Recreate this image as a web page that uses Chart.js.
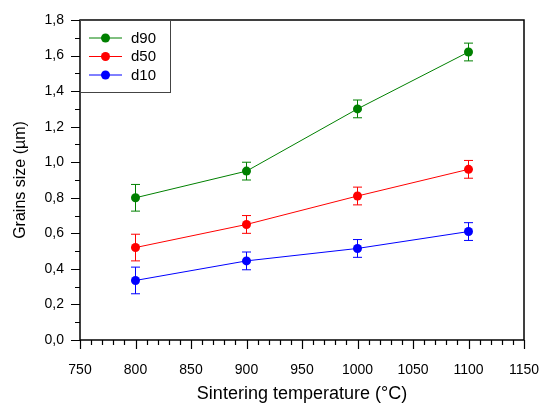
<!DOCTYPE html>
<html lang="en">
<head>
    <meta charset="UTF-8">
    <title>Grains size vs sintering temperature</title>
    <style>
        body { margin: 0; background: #ffffff; }
        #chart { display: block; }
    </style>
    <script src="https://cdnjs.cloudflare.com/ajax/libs/Chart.js/4.4.0/chart.umd.min.js"></script>
</head>
<body>
    <canvas id="chart" width="542" height="405"></canvas>
    <script>
        // data
        const temps = [800, 900, 1000, 1100];
        const d90 = [0.80, 0.95, 1.30, 1.62];
        const d90Err = [0.075, 0.05, 0.05, 0.05];
        const d50 = [0.52, 0.65, 0.81, 0.96];
        const d50Err = [0.075, 0.05, 0.05, 0.05];
        const d10 = [0.335, 0.445, 0.515, 0.61];
        const d10Err = [0.075, 0.05, 0.05, 0.05];

        const FONT = "'Liberation Sans', Arial, sans-serif";

        function makeSet(label, values, errs, color) {
            return {
                label: label,
                data: temps.map((t, i) => ({ x: t, y: values[i] })),
                errors: errs,
                borderColor: color,
                backgroundColor: color,
                borderWidth: 1,
                pointRadius: 4.5,
                pointHoverRadius: 4.5,
                pointBorderWidth: 0,
                tension: 0
            };
        }

        // error bars, frame, ticks and the boxed legend
        const decorations = {
            id: 'decorations',
            beforeDatasetsDraw(chart) {
                const ctx = chart.ctx;
                const xs = chart.scales.x, ys = chart.scales.y;
                ctx.save();
                chart.data.datasets.forEach(ds => {
                    ctx.strokeStyle = ds.borderColor;
                    ctx.lineWidth = 1;
                    ds.data.forEach((p, i) => {
                        const px = xs.getPixelForValue(p.x);
                        const top = ys.getPixelForValue(p.y + ds.errors[i]);
                        const bot = ys.getPixelForValue(p.y - ds.errors[i]);
                        ctx.beginPath();
                        ctx.moveTo(px, top); ctx.lineTo(px, bot);
                        ctx.moveTo(px - 4.5, top); ctx.lineTo(px + 4.5, top);
                        ctx.moveTo(px - 4.5, bot); ctx.lineTo(px + 4.5, bot);
                        ctx.stroke();
                    });
                });
                ctx.restore();
            },
            afterDraw(chart) {
                const ctx = chart.ctx;
                const a = chart.chartArea;
                const xs = chart.scales.x, ys = chart.scales.y;
                ctx.save();
                ctx.strokeStyle = '#000';
                ctx.lineWidth = 1.5;
                ctx.strokeRect(a.left, a.top, a.right - a.left, a.bottom - a.top);

                ctx.lineWidth = 1.2;
                ctx.beginPath();
                for (let v = 750; v <= 1150; v += 10) {
                    const px = Math.round(xs.getPixelForValue(v)) + 0.5;
                    const len = v % 50 === 0 ? 9 : 5;
                    ctx.moveTo(px, a.bottom); ctx.lineTo(px, a.bottom + len);
                }
                for (let k = 0; k <= 18; k++) {
                    const py = Math.round(ys.getPixelForValue(k / 10)) + 0.5;
                    const len = k % 2 === 0 ? 9 : 5;
                    ctx.moveTo(a.left, py); ctx.lineTo(a.left - len, py);
                }
                ctx.stroke();

                // legend box
                const bx = a.left, by = a.top, bw = 90, bh = 72;
                ctx.fillStyle = '#fff';
                ctx.fillRect(bx, by, bw, bh);
                ctx.strokeStyle = '#444';
                ctx.lineWidth = 1;
                ctx.strokeRect(bx + 0.5, by + 0.5, bw, bh);
                ctx.font = '15px ' + FONT;
                ctx.textBaseline = 'middle';
                chart.data.datasets.forEach((ds, i) => {
                    const ly = by + 18 + i * 18.5;
                    ctx.strokeStyle = ds.borderColor;
                    ctx.beginPath();
                    ctx.moveTo(bx + 9, ly); ctx.lineTo(bx + 42, ly);
                    ctx.stroke();
                    ctx.fillStyle = ds.borderColor;
                    ctx.beginPath();
                    ctx.arc(bx + 25.5, ly, 4.5, 0, Math.PI * 2);
                    ctx.fill();
                    ctx.fillStyle = '#000';
                    ctx.fillText(ds.label, bx + 51, ly + 0.5);
                });
                ctx.restore();
            }
        };

        new Chart(document.getElementById('chart'), {
            type: 'line',
            data: {
                datasets: [
                    makeSet('d90', d90, d90Err, '#008000'),
                    makeSet('d50', d50, d50Err, '#ff0000'),
                    makeSet('d10', d10, d10Err, '#0000ff')
                ]
            },
            options: {
                responsive: false,
                animation: false,
                layout: { padding: { top: 20, right: 18, left: 0, bottom: 0 } },
                plugins: {
                    legend: { display: false },
                    tooltip: { enabled: false }
                },
                scales: {
                    x: {
                        type: 'linear',
                        min: 750,
                        max: 1150,
                        grid: { display: false },
                        border: { display: false },
                        ticks: {
                            stepSize: 50,
                            padding: 14,
                            color: '#000',
                            font: { family: FONT, size: 14 },
                            callback: v => String(v)
                        },
                        title: {
                            display: true,
                            text: 'Sintering temperature (°C)',
                            color: '#000',
                            font: { family: FONT, size: 18 },
                            padding: { top: 0, bottom: 0 }
                        },
                        afterFit(scale) {
                            scale.height = 65;
                            scale.paddingLeft = 0;
                            scale.paddingRight = 0;
                        }
                    },
                    y: {
                        min: 0,
                        max: 1.8,
                        grid: { display: false },
                        border: { display: false },
                        ticks: {
                            stepSize: 0.2,
                            padding: 8,
                            color: '#000',
                            font: { family: FONT, size: 14 },
                            callback: v => v.toFixed(1).replace('.', ',')
                        },
                        title: {
                            display: true,
                            text: 'Grains size (µm)',
                            color: '#000',
                            font: { family: FONT, size: 16 },
                            padding: { top: 11, bottom: 0 }
                        },
                        afterFit(scale) {
                            scale.width = 80;
                            scale.paddingTop = 0;
                            scale.paddingBottom = 0;
                        }
                    }
                }
            },
            plugins: [decorations]
        });
    </script>
</body>
</html>
